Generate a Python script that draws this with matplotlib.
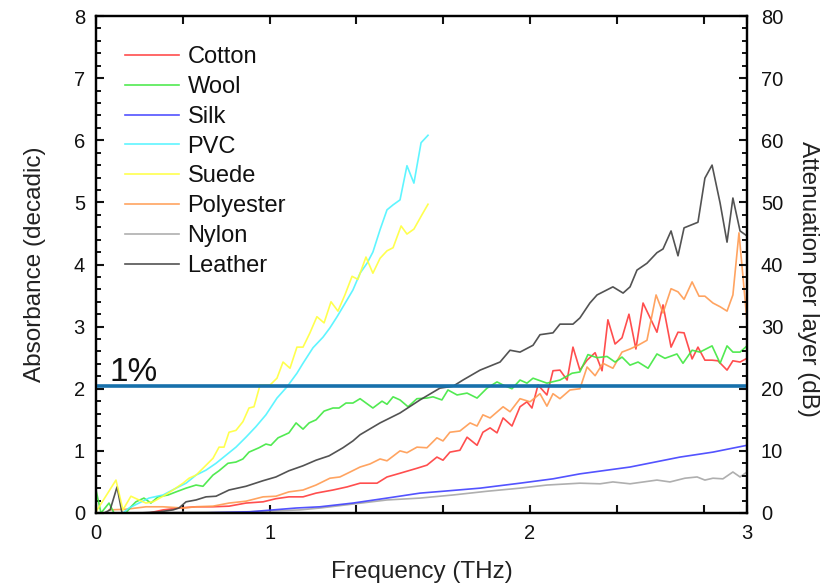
import matplotlib
matplotlib.use("Agg")
import matplotlib.pyplot as plt
from matplotlib.ticker import MultipleLocator, FixedLocator

plt.rcParams['font.family'] = ['Liberation Sans', 'DejaVu Sans']

# ---------------- data (frequency in THz, absorbance decadic) ----------------
leather_f = [0.000, 0.037, 0.065, 0.097, 0.120, 0.203, 0.295, 0.355, 0.382, 0.415,
             0.461, 0.507, 0.553, 0.613, 0.691, 0.770, 0.829, 0.889, 0.954, 1.014,
             1.074, 1.138, 1.184, 1.217, 1.309, 1.401, 1.493, 1.585, 1.645, 1.691,
             1.770, 1.862, 1.908, 1.954, 2.014, 2.046, 2.106, 2.138, 2.198, 2.230,
             2.276, 2.309, 2.382, 2.429, 2.461, 2.493, 2.539, 2.585, 2.613, 2.650,
             2.682, 2.710, 2.774, 2.806, 2.839, 2.876, 2.908, 2.935, 2.968, 3.000]
leather_a = [0.00, 0.00, 0.05, 0.42, 0.00, 0.00, 0.02, 0.05, 0.08, 0.18,
             0.21, 0.26, 0.27, 0.37, 0.43, 0.52, 0.58, 0.68, 0.76, 0.85,
             0.92, 1.05, 1.16, 1.26, 1.45, 1.61, 1.82, 2.01, 2.04, 2.14,
             2.30, 2.43, 2.62, 2.59, 2.70, 2.87, 2.90, 3.04, 3.04, 3.14,
             3.38, 3.51, 3.64, 3.54, 3.64, 3.91, 4.02, 4.19, 4.25, 4.54,
             4.14, 4.59, 4.68, 5.39, 5.60, 4.99, 4.36, 5.07, 4.54, 4.46]

polyester_f = [0.060, 0.138, 0.230, 0.309, 0.401, 0.461, 0.539, 0.613, 0.691, 0.770,
               0.829, 0.889, 0.954, 1.014, 1.078, 1.124, 1.171, 1.217, 1.263, 1.309,
               1.341, 1.401, 1.433, 1.479, 1.525, 1.571, 1.599, 1.631, 1.677, 1.724,
               1.756, 1.783, 1.816, 1.876, 1.908, 1.954, 2.000, 2.046, 2.078, 2.106,
               2.138, 2.184, 2.230, 2.263, 2.300, 2.336, 2.382, 2.424, 2.461, 2.498,
               2.539, 2.581, 2.613, 2.650, 2.682, 2.710, 2.747, 2.779, 2.806, 2.843,
               2.876, 2.908, 2.935, 2.963, 3.000]
polyester_a = [0.05, 0.06, 0.10, 0.10, 0.08, 0.10, 0.11, 0.16, 0.19, 0.26,
               0.27, 0.34, 0.37, 0.45, 0.56, 0.58, 0.66, 0.74, 0.79, 0.87,
               0.84, 1.00, 0.97, 1.06, 1.05, 1.21, 1.16, 1.30, 1.32, 1.45,
               1.40, 1.58, 1.53, 1.71, 1.63, 1.84, 1.79, 1.92, 1.72, 1.92,
               1.84, 1.98, 2.00, 2.35, 2.21, 2.41, 2.33, 2.59, 2.64, 2.70,
               2.78, 3.51, 3.22, 3.61, 3.56, 3.44, 3.72, 3.49, 3.49, 3.38,
               3.32, 3.25, 3.51, 4.51, 3.09]

cotton_f = [0.244, 0.309, 0.382, 0.461, 0.539, 0.613, 0.691, 0.770, 0.829, 0.889,
            0.954, 1.014, 1.092, 1.157, 1.217, 1.295, 1.341, 1.401, 1.479, 1.525,
            1.571, 1.599, 1.631, 1.677, 1.710, 1.756, 1.783, 1.816, 1.848, 1.876,
            1.917, 1.954, 1.986, 2.009, 2.037, 2.078, 2.106, 2.138, 2.171, 2.198,
            2.230, 2.263, 2.300, 2.332, 2.359, 2.392, 2.424, 2.456, 2.488, 2.521,
            2.585, 2.613, 2.650, 2.682, 2.710, 2.747, 2.774, 2.806, 2.839, 2.866,
            2.908, 2.935, 2.968, 3.000]
cotton_a = [0.00, 0.05, 0.08, 0.10, 0.10, 0.11, 0.16, 0.18, 0.23, 0.26,
            0.26, 0.32, 0.37, 0.42, 0.48, 0.48, 0.58, 0.64, 0.72, 0.77,
            0.90, 0.85, 0.98, 1.01, 1.22, 1.09, 1.30, 1.37, 1.29, 1.53,
            1.40, 1.71, 1.79, 1.69, 2.06, 1.90, 2.29, 2.30, 2.14, 2.67,
            2.30, 2.46, 2.58, 2.29, 3.11, 2.72, 2.82, 3.20, 2.64, 3.38,
            2.91, 3.35, 2.67, 2.91, 2.90, 2.48, 2.67, 2.46, 2.46, 2.45,
            2.30, 2.45, 2.43, 2.49]

wool_f = [0.000, 0.023, 0.060, 0.083, 0.138, 0.161, 0.184, 0.221, 0.253, 0.286,
          0.332, 0.369, 0.415, 0.461, 0.493, 0.539, 0.567, 0.608, 0.645, 0.677,
          0.705, 0.751, 0.783, 0.806, 0.839, 0.889, 0.922, 0.954, 0.982, 1.014,
          1.051, 1.092, 1.120, 1.152, 1.184, 1.217, 1.276, 1.318, 1.341, 1.369,
          1.401, 1.438, 1.479, 1.525, 1.553, 1.594, 1.622, 1.664, 1.710, 1.756,
          1.802, 1.848, 1.876, 1.917, 1.954, 1.986, 2.014, 2.078, 2.138, 2.194,
          2.230, 2.267, 2.309, 2.355, 2.392, 2.424, 2.461, 2.498, 2.544, 2.585,
          2.622, 2.677, 2.705, 2.747, 2.783, 2.839, 2.876, 2.908, 2.935, 2.968,
          3.000]
wool_a = [0.37, 0.00, 0.16, 0.00, 0.00, 0.10, 0.18, 0.24, 0.16, 0.26,
          0.29, 0.34, 0.40, 0.45, 0.43, 0.61, 0.68, 0.80, 0.82, 0.87,
          0.98, 1.05, 1.11, 1.09, 1.21, 1.29, 1.45, 1.35, 1.45, 1.50,
          1.64, 1.69, 1.69, 1.77, 1.77, 1.84, 1.69, 1.80, 1.75, 1.87,
          1.82, 1.71, 1.84, 1.85, 1.87, 1.82, 1.98, 1.90, 1.93, 1.85,
          2.01, 2.11, 2.06, 2.00, 2.14, 2.09, 2.17, 2.09, 2.14, 2.25,
          2.27, 2.55, 2.50, 2.52, 2.43, 2.51, 2.38, 2.43, 2.33, 2.56,
          2.49, 2.56, 2.41, 2.62, 2.59, 2.69, 2.41, 2.69, 2.59, 2.59,
          2.69]

silk_f = [0.000, 0.479, 0.710, 0.922, 1.032, 1.184, 1.341, 1.493, 1.599, 1.770,
          1.954, 2.106, 2.230, 2.461, 2.691, 2.843, 3.000]
silk_a = [0.00, 0.00, 0.02, 0.08, 0.10, 0.16, 0.24, 0.32, 0.35, 0.40,
          0.48, 0.55, 0.63, 0.74, 0.90, 0.98, 1.09]

nylon_f = [0.000, 0.710, 0.940, 1.032, 1.341, 1.493, 1.645, 1.802, 1.954, 2.078,
           2.230, 2.323, 2.382, 2.461, 2.585, 2.645, 2.714, 2.770, 2.806, 2.843,
           2.889, 2.935, 2.968, 3.000]
nylon_a = [0.00, 0.02, 0.05, 0.08, 0.21, 0.24, 0.29, 0.35, 0.40, 0.45,
           0.48, 0.47, 0.50, 0.47, 0.53, 0.50, 0.56, 0.58, 0.53, 0.56,
           0.55, 0.66, 0.58, 0.66]

pvc_f = [0.124, 0.152, 0.198, 0.244, 0.309, 0.369, 0.415, 0.461, 0.507, 0.553,
         0.599, 0.645, 0.691, 0.737, 0.783, 0.834, 0.880, 0.926, 0.954, 1.000,
         1.046, 1.078, 1.111, 1.157, 1.184, 1.217, 1.249, 1.276, 1.309, 1.341,
         1.369, 1.401, 1.433, 1.465, 1.498, 1.530]
pvc_a = [0.00, 0.08, 0.16, 0.24, 0.29, 0.40, 0.48, 0.61, 0.69, 0.80,
         0.93, 1.06, 1.22, 1.39, 1.58, 1.85, 2.03, 2.25, 2.41, 2.66,
         2.83, 2.98, 3.16, 3.43, 3.59, 3.86, 4.02, 4.20, 4.56, 4.88,
         4.96, 5.04, 5.59, 5.31, 5.96, 6.08]

suede_f = [0.000, 0.092, 0.124, 0.161, 0.198, 0.230, 0.263, 0.309, 0.355, 0.401,
           0.429, 0.461, 0.493, 0.539, 0.567, 0.590, 0.613, 0.645, 0.677, 0.705,
           0.728, 0.756, 0.802, 0.834, 0.862, 0.894, 0.926, 0.954, 0.986, 1.018,
           1.051, 1.083, 1.115, 1.147, 1.180, 1.207, 1.244, 1.276, 1.309, 1.341,
           1.369, 1.406, 1.433, 1.465, 1.502, 1.530]
suede_a = [0.02, 0.53, 0.05, 0.27, 0.21, 0.16, 0.18, 0.27, 0.37, 0.48,
           0.56, 0.61, 0.72, 0.88, 1.06, 1.06, 1.30, 1.33, 1.47, 1.69,
           1.71, 2.06, 2.06, 2.17, 2.43, 2.33, 2.67, 2.67, 2.90, 3.16,
           3.06, 3.40, 3.25, 3.51, 3.81, 3.76, 4.12, 3.86, 4.10, 4.22,
           4.27, 4.62, 4.49, 4.57, 4.80, 4.97]

series_names = ["Cotton", "Wool", "Silk", "PVC", "Suede", "Polyester", "Nylon", "Leather"]
series_colors = ["#ff3b3b", "#3fe83f", "#4040ff", "#4ef4ff", "#ffff3c", "#ff9a50", "#a6a6a6", "#404040"]
series_data = [(cotton_f, cotton_a), (wool_f, wool_a), (silk_f, silk_a), (pvc_f, pvc_a),
               (suede_f, suede_a), (polyester_f, polyester_a), (nylon_f, nylon_a),
               (leather_f, leather_a)]

threshold = 2.04          # 1 % transmission line
threshold_label = "1%"

x_tick_pos = [0, 0.4, 0.8, 1.2, 1.6, 2.0, 2.4, 2.8, 3.0]
x_tick_lab = ["0", "", "1", "", "", "2", "", "", "3"]

# ---------------- figure ----------------
fig = plt.figure(figsize=(8.27, 5.84), dpi=100)
ax = fig.add_axes([96 / 827, 71 / 584, 651 / 827, 497 / 584])

draw_order = [6, 2, 0, 5, 1, 7, 3, 4]
lines = {}
for i in draw_order:
    f, a = series_data[i]
    ln, = ax.plot(f, a, color=series_colors[i], lw=1.2, alpha=0.9, label=series_names[i])
    lines[i] = ln

ax.axhline(threshold, color="#1670ab", lw=2.6, zorder=5)
ax.text(0.063, 2.12, threshold_label, fontsize=24, color="#111111", ha="left", va="baseline")

ax.set_xlim(0, 3)
ax.set_ylim(0, 8)
ax.xaxis.set_major_locator(FixedLocator(x_tick_pos))
ax.set_xticklabels(x_tick_lab)
ax.yaxis.set_major_locator(MultipleLocator(1))
ax.yaxis.set_minor_locator(MultipleLocator(0.2))

for s in ax.spines.values():
    s.set_linewidth(1.6)

ax.tick_params(axis="x", which="major", direction="in", top=True, length=6, width=1.5,
               labelsize=14.5, pad=8, colors="#111111")
ax.tick_params(axis="y", which="major", direction="in", right=False, length=6, width=1.5,
               labelsize=14.5, pad=8, colors="#111111")
ax.tick_params(axis="y", which="minor", direction="in", right=False, length=3.5, width=1.3)

ax.set_xlabel("Frequency (THz)", fontsize=17.5, color="#222222")
ax.xaxis.set_label_coords(0.5, -0.097)
ax.set_ylabel("Absorbance (decadic)", fontsize=17.5, color="#222222")
ax.yaxis.set_label_coords(-0.077, 0.5)

ax2 = ax.twinx()
ax2.set_ylim(0, 80)
ax2.yaxis.set_major_locator(MultipleLocator(10))
ax2.yaxis.set_minor_locator(MultipleLocator(2))
ax2.tick_params(axis="y", which="major", direction="in", length=6, width=1.5,
                labelsize=14.5, pad=10, colors="#111111")
ax2.tick_params(axis="y", which="minor", direction="in", length=3.5, width=1.3)
ax2.set_ylabel("Attenuation per layer (dB)", fontsize=17.5, color="#222222",
               rotation=270, va="center")
ax2.yaxis.set_label_coords(1.094, 0.47)
for s in ax2.spines.values():
    s.set_linewidth(1.6)

handles = [lines[i] for i in range(8)]
leg = ax.legend(handles, series_names, loc="upper left", bbox_to_anchor=(0.03, 0.958),
                frameon=False, fontsize=17, handlelength=2.3, handletextpad=0.35,
                labelspacing=0.33, borderaxespad=0.0)
for t in leg.get_texts():
    t.set_color("#111111")

fig.savefig("out.png", dpi=100)
